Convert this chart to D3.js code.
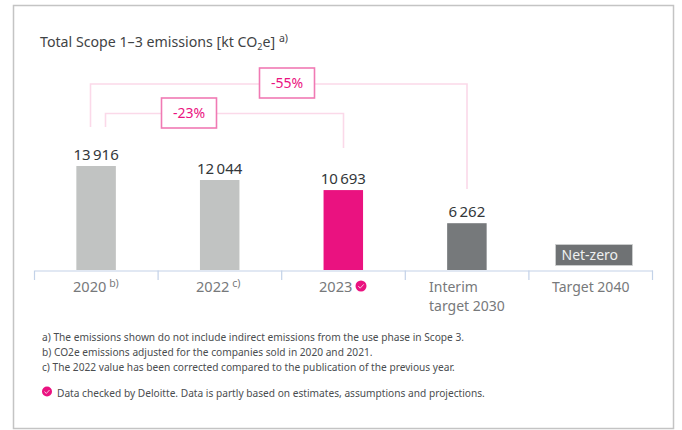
<!DOCTYPE html>
<html><head><meta charset="utf-8">
<style>html,body{margin:0;padding:0;background:#fff}svg{display:block}text{font-family:"Noto Sans",sans-serif}</style>
<script src="https://cdn.jsdelivr.net/npm/d3@7/dist/d3.min.js"></script></head>
<body><svg id="c" width="682" height="430"></svg>
<script>
const categories = ["2020","2022","2023","Interim target 2030","Target 2040"];
const values = [13916,12044,10693,6262,null];
const valueLabels = ["13 916","12 044","10 693","6 262","Net-zero"];
const barColors = ["#c1c3c2","#c1c3c2","#ea1280","#76797b",null];
const tickLabels = [["2020"],["2022"],["2023"],["Interim","target 2030"],["Target 2040"]];
const tickNotes = ["b)","c)","","",""];
const footnotes = ["a) The emissions shown do not include indirect emissions from the use phase in Scope 3.",
 "b) CO2e emissions adjusted for the companies sold in 2020 and 2021.",
 "c) The 2022 value has been corrected compared to the publication of the previous year."];
const legendText = "Data checked by Deloitte. Data is partly based on estimates, assumptions and projections.";

const svg = d3.select("#c");
const pink="#ea1280", boxPink="#f07ab4", linePink="#fbd9e9", axisC="#c3d2e8", txt="#3f4345", grey="#77797b";
svg.append("rect").attr("x",13.5).attr("y",5.5).attr("width",660).attr("height",423).attr("fill","#fff").attr("stroke","#c4c4c4").attr("stroke-width",1.5);

const x = d3.scaleBand().domain(categories).range([34.5,652.5]).paddingInner(0).paddingOuter(0);
const y = d3.scaleLinear().domain([0,13916]).range([270,166]);
const barW = 39.5;
const cx = c => x(c)+x.bandwidth()/2 - 0.2;

// title
const t = svg.append("text").attr("x",40).attr("y",47).attr("font-size",14.2).attr("fill",txt);
t.append("tspan").text("Total Scope 1–3 emissions [kt CO");
t.append("tspan").text("2").attr("font-size",9).attr("dy",3);
t.append("tspan").text("e] ").attr("dy",-3);
t.append("tspan").text("a)").attr("font-size",10.5).attr("dy",-5);

// bars
svg.selectAll("rect.bar").data(categories.filter((c,i)=>values[i]!=null)).join("rect").attr("class","bar")
 .attr("x",c=>cx(c)-barW/2).attr("width",barW)
 .attr("y",c=>y(values[categories.indexOf(c)]))
 .attr("height",c=>y(0)-y(values[categories.indexOf(c)]))
 .attr("fill",c=>barColors[categories.indexOf(c)]);
svg.selectAll("text.val").data(categories.filter((c,i)=>values[i]!=null)).join("text").attr("class","val")
 .attr("x",c=>cx(c)).attr("y",c=>y(values[categories.indexOf(c)])-6)
 .attr("text-anchor","middle").attr("font-size",15).attr("fill","#33373a").attr("word-spacing",-1.5)
 .text(c=>valueLabels[categories.indexOf(c)]);

// Net-zero
const nz = categories[4];
svg.append("rect").attr("x",cx(nz)-35).attr("y",244.5).attr("width",77).attr("height",21).attr("fill","#6f7274").attr("stroke","#cfd1d2").attr("stroke-width",.8);
svg.append("text").attr("x",cx(nz)-29).attr("y",260).attr("font-size",14).attr("fill","#eef0f0").text(valueLabels[4]);

// axis
const axis = d3.axisBottom(x).tickValues([]).tickSize(0);
const ag = svg.append("g").attr("transform","translate(0,270.5)").call(axis);
ag.select(".domain").attr("stroke",axisC).attr("stroke-width",1.2);
const edges = categories.map(c=>x(c)).concat([x(categories[4])+x.bandwidth()]);
svg.selectAll("line.tk").data(edges).join("line").attr("class","tk").attr("x1",d=>d).attr("x2",d=>d)
 .attr("y1",270.5).attr("y2",280).attr("stroke",axisC).attr("stroke-width",1.2);

// tick labels
const tickX = [73,196,319,429,552];
const tickSize = [14.6,14.6,14.6,14,14];
categories.forEach((c,i)=>{
  const tx = svg.append("text").attr("x",tickX[i]).attr("y",292).attr("font-size",tickSize[i]).attr("fill",grey);
  tickLabels[i].forEach((l,j)=>tx.append("tspan").attr("x",tickX[i]).attr("dy",j?18.5:0).text(l));
  if(tickNotes[i]) tx.append("tspan").text(" "+tickNotes[i]).attr("font-size",10.5).attr("dy",-5);
});
function check(g,cxp,cyp,r){
  g.append("circle").attr("cx",cxp).attr("cy",cyp).attr("r",r).attr("fill",pink);
  g.append("path").attr("d",`M${cxp-r*.5},${cyp} l${r*.35},${r*.4} l${r*.65},${-r*.7}`).attr("fill","none").attr("stroke","#f9c4dd").attr("stroke-width",1);
}
check(svg,361,286,5.5);

// brackets
const bracket=(x0,x1,yTop,y0,y1,label,bx,by)=>{
  svg.append("path").attr("d",d3.line()([[x0,y0],[x0,yTop],[x1,yTop],[x1,y1]])).attr("fill","none").attr("stroke",linePink).attr("stroke-width",1.6);
  svg.append("rect").attr("x",bx).attr("y",by).attr("width",55).attr("height",30).attr("fill","#fff").attr("stroke",boxPink).attr("stroke-width",1.6);
  svg.append("text").attr("x",bx+27.5).attr("y",by+20).attr("text-anchor","middle").attr("font-size",14).attr("fill",pink).text(label);
};
bracket(90.5,467,84,127,189,"-55%",259.5,68);
bracket(105.5,343.5,113.5,127,148,"-23%",161.5,98);

// footnotes
svg.selectAll("text.fn").data(footnotes).join("text").attr("class","fn").attr("x",42).attr("y",(d,i)=>341+i*15)
 .attr("font-size",10.17).attr("fill","#4a4d50").text(d=>d);
check(svg,47,391.5,5);
svg.append("text").attr("x",57).attr("y",397).attr("font-size",10.17).attr("fill","#4a4d50").text(legendText);
</script></body></html>
